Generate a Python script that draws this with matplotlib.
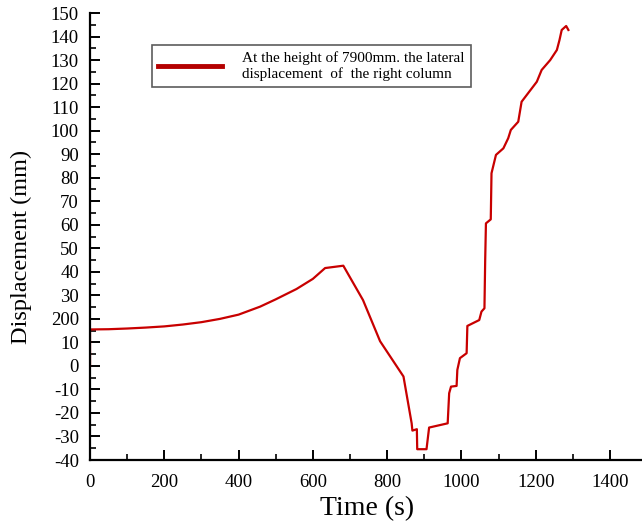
import matplotlib.pyplot as plt
from matplotlib.lines import Line2D
from matplotlib.ticker import MultipleLocator, FixedLocator

# time (s) and lateral displacement (mm)
time_s = [0, 0, 50, 100, 150, 200, 250, 300, 350, 400, 458, 500, 556, 600,
          633, 682, 735, 781, 844, 866, 868, 880, 881, 906, 913, 963, 967,
          972, 987, 989, 996, 1014, 1016, 1048, 1054, 1062, 1064, 1066, 1079,
          1081, 1093, 1113, 1126, 1133, 1153, 1162, 1203, 1216, 1239, 1257,
          1264, 1270, 1282, 1288]
disp_mm = [0, 15.5, 15.6, 15.9, 16.3, 16.8, 17.6, 18.6, 20.0, 21.8, 25.2,
           28.3, 32.7, 37.0, 41.6, 42.6, 28.0, 10.5, -4.5, -24.4, -27.5,
           -26.9, -35.4, -35.4, -26.2, -24.4, -11.6, -8.8, -8.5, -1.7, 3.3,
           5.4, 17.0, 19.5, 23.1, 24.5, 45.0, 60.6, 62.3, 81.9, 89.7, 92.5,
           96.8, 100.3, 103.8, 112.3, 120.8, 125.8, 130.0, 134.3, 138.5,
           142.8, 144.5, 142.8]

y_ticks = list(range(-40, 151, 10))
y_labels = [str(v) for v in y_ticks]
y_labels[y_ticks.index(20)] = '200'
legend_text = 'At the height of 7900mm. the lateral\ndisplacement  of  the right column'

plt.rcParams['font.family'] = ['Liberation Serif', 'DejaVu Serif']

fig = plt.figure(figsize=(6.42, 5.24), dpi=100)
ax = fig.add_axes([0.1402, 0.1221, 0.862, 0.853])
ax.plot(time_s, disp_mm, color='#c80000', lw=1.6)

ax.set_xlim(0, 1490)
ax.set_ylim(-40, 150)
ax.xaxis.set_major_locator(MultipleLocator(200))
ax.xaxis.set_minor_locator(MultipleLocator(100))
ax.yaxis.set_major_locator(FixedLocator(y_ticks))
ax.yaxis.set_minor_locator(MultipleLocator(5))
ax.set_yticklabels(y_labels)

for s in ['top', 'right']:
    ax.spines[s].set_visible(False)
for s in ['left', 'bottom']:
    ax.spines[s].set_linewidth(1.6)
ax.tick_params(which='major', direction='in', length=7, width=1.4, labelsize=13.5, pad=8)
ax.tick_params(which='minor', direction='in', length=4, width=1.2)
ax.tick_params(axis='x', pad=10)

ax.set_xlabel('Time (s)', fontsize=20, labelpad=4)
ax.set_ylabel('Displacement (mm)', fontsize=17.5)
ax.yaxis.set_label_coords(-0.105, 0.477)

handle = Line2D([], [], color='#b40000', lw=3.5)
leg = ax.legend([handle], [legend_text], loc='upper left',
                bbox_to_anchor=(0.112, 0.928), borderaxespad=0,
                fontsize=11, frameon=True, fancybox=False,
                edgecolor='#333333', handlelength=4.2, handletextpad=1.3,
                borderpad=0.4, labelspacing=0)
leg.get_frame().set_linewidth(1.2)

fig.savefig('out.png', dpi=100)
